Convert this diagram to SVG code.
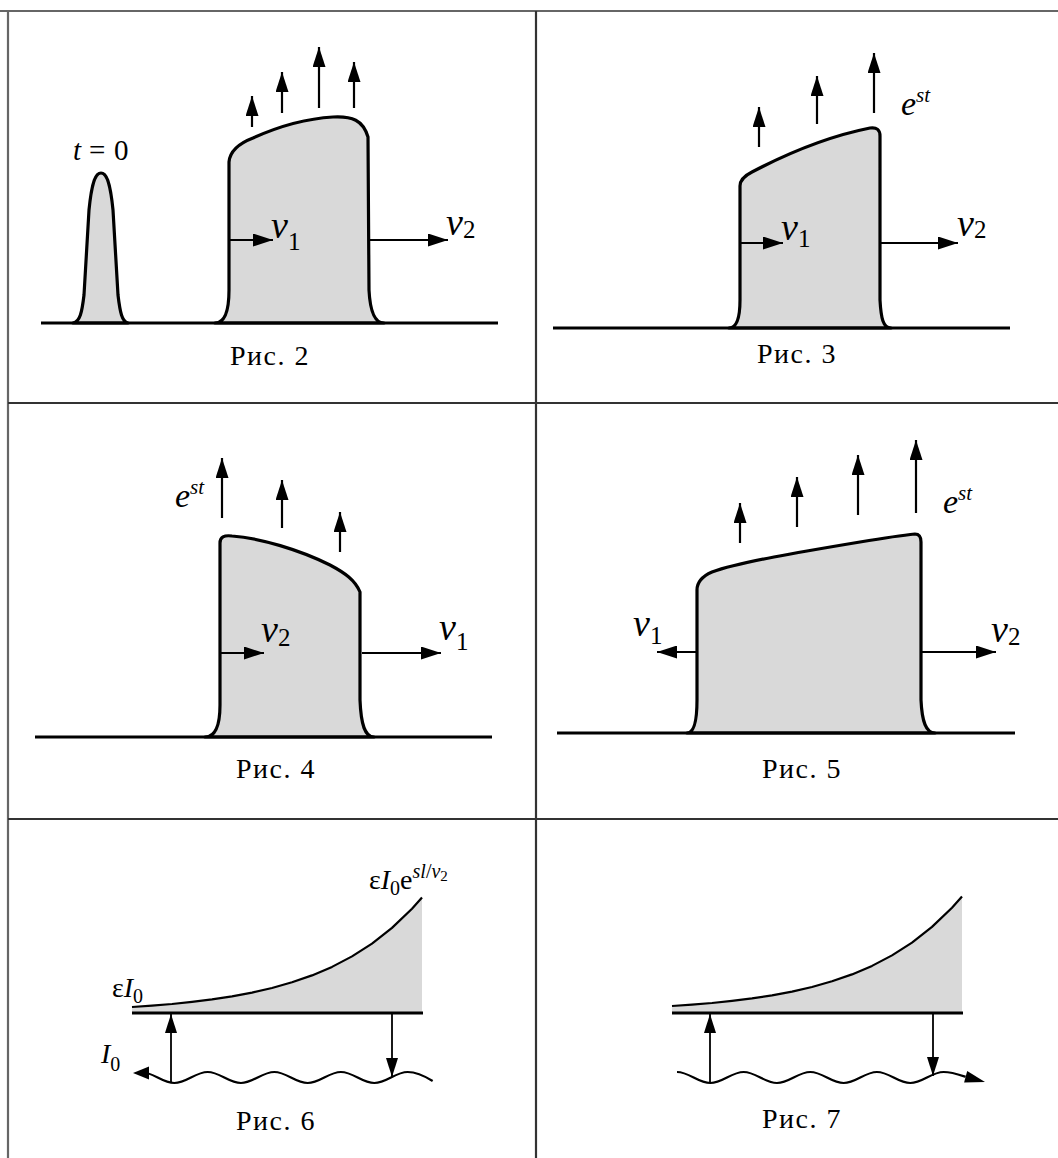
<svg xmlns="http://www.w3.org/2000/svg" width="1058" height="1158" viewBox="0 0 1058 1158">
<style>
.frame{stroke:#666;stroke-width:2.2;fill:none}
.grid{stroke:#333;stroke-width:2.2;fill:none}
.pulse{fill:#d9d9d9;stroke:#000;stroke-width:3.2;stroke-linejoin:round}
.base{stroke:#000;stroke-width:3;fill:none}
.arr{stroke:#000;stroke-width:2.2;fill:none;marker-end:url(#ah)}
.arr2{stroke:#000;stroke-width:1.8;fill:none;marker-end:url(#ah2)}
.curve{stroke:#000;stroke-width:2.2;fill:none;stroke-linejoin:round}
.area{fill:#d9d9d9;stroke:none}
.wave{stroke:#000;stroke-width:2.2;fill:none}
.cap{font-family:'Liberation Serif',serif;font-size:28px;letter-spacing:1.5px;text-anchor:middle;fill:#000}
.lbl{font-family:'Liberation Serif',serif;fill:#000}
.it{font-style:italic}
</style>
<defs>
<marker id="ah" markerUnits="userSpaceOnUse" markerWidth="20" markerHeight="13" refX="20" refY="6.5" orient="auto">
<path d="M0,0 L20,6.5 L0,13 z" fill="#000"/>
</marker>
<marker id="ah2" markerUnits="userSpaceOnUse" markerWidth="19" markerHeight="12" refX="19" refY="6" orient="auto">
<path d="M0,0 L19,6 L0,12 z" fill="#000"/>
</marker>
</defs>

<g id="frame">
<line class="frame" x1="0" y1="11" x2="1058" y2="11"/>
<line class="frame" x1="8" y1="10" x2="8" y2="1158"/>
<line class="grid" x1="536" y1="11" x2="536" y2="1158"/>
<line class="grid" x1="8" y1="403" x2="1058" y2="403"/>
<line class="grid" x1="8" y1="819" x2="1058" y2="819"/>
</g>

<g id="fig2">
<path class="pulse" d="M73,323 C80,322 82,312 84,295 L89,210 C92,180 96,173 101,173 C106,173 110,180 113,210 L118,295 C120,312 122,322 128,323 Z"/>
<path class="pulse" d="M215,323 C225,323 229,310 229,290 L229,162 C230,150 240,143 253,138 C275,128 300,119 333,117 C352,116 363,120 368,137 L369,290 C370,310 374,323 384,323 Z"/>
<line class="base" x1="41" y1="323" x2="498" y2="323"/>
<line class="arr" x1="252" y1="127" x2="252" y2="96"/>
<line class="arr" x1="282" y1="113" x2="282" y2="72"/>
<line class="arr" x1="319" y1="108" x2="319" y2="47"/>
<line class="arr" x1="354" y1="108" x2="354" y2="62"/>
<line class="arr" x1="230" y1="240" x2="273" y2="240"/>
<line class="arr" x1="370" y1="240" x2="448" y2="240"/>
<text class="lbl" x="73" y="160" font-size="29"><tspan class="it">t</tspan><tspan x="89">=</tspan><tspan x="114">0</tspan></text>
<text class="lbl" x="271" y="238" font-size="38"><tspan class="it">v</tspan><tspan font-size="25" dy="12">1</tspan></text>
<text class="lbl" x="446" y="235" font-size="38"><tspan class="it">v</tspan><tspan font-size="25" dy="3">2</tspan></text>
<text class="cap" x="270" y="365">Рис. 2</text>
</g>

<g id="fig3">
<path class="pulse" d="M729,328 C737,328 740,318 740,300 L740,186 C740,180 744,176 752,172 C790,152 830,136 870,128 C877,127 880,130 880,136 L880,300 C881,318 883,328 891,328 Z"/>
<line class="base" x1="553" y1="328" x2="1010" y2="328"/>
<line class="arr" x1="759" y1="147" x2="759" y2="107"/>
<line class="arr" x1="817" y1="124" x2="817" y2="76"/>
<line class="arr" x1="874" y1="113" x2="874" y2="53"/>
<line class="arr" x1="741" y1="243" x2="783" y2="243"/>
<line class="arr" x1="881" y1="243" x2="958" y2="243"/>
<text class="lbl" x="901" y="115" font-size="34"><tspan class="it">e</tspan><tspan class="it" font-size="21" dy="-13">st</tspan></text>
<text class="lbl" x="781" y="240" font-size="38"><tspan class="it">v</tspan><tspan font-size="25" dy="7">1</tspan></text>
<text class="lbl" x="957" y="236" font-size="38"><tspan class="it">v</tspan><tspan font-size="25" dy="2">2</tspan></text>
<text class="cap" x="797" y="363">Рис. 3</text>
</g>

<g id="fig4">
<path class="pulse" d="M205,737 C215,737 220,725 220,705 L220,543 C220,537 224,535 232,536 C260,538 300,550 330,565 C345,573 355,580 360,592 L360,700 C361,725 365,737 374,737 Z"/>
<line class="base" x1="35" y1="737" x2="492" y2="737"/>
<line class="arr" x1="222" y1="518" x2="222" y2="458"/>
<line class="arr" x1="282" y1="528" x2="282" y2="480"/>
<line class="arr" x1="340" y1="552" x2="340" y2="512"/>
<line class="arr" x1="221" y1="653" x2="264" y2="653"/>
<line class="arr" x1="362" y1="653" x2="441" y2="653"/>
<text class="lbl" x="175" y="507" font-size="34"><tspan class="it">e</tspan><tspan class="it" font-size="21" dy="-13">st</tspan></text>
<text class="lbl" x="261" y="642" font-size="38"><tspan class="it">v</tspan><tspan font-size="25" dy="4">2</tspan></text>
<text class="lbl" x="439" y="640" font-size="38"><tspan class="it">v</tspan><tspan font-size="25" dy="10">1</tspan></text>
<text class="cap" x="276" y="778">Рис. 4</text>
</g>

<g id="fig5">
<path class="pulse" d="M687,733 C694,733 697,722 697,700 L697,590 C697,582 703,576 712,572 C740,562 800,552 860,542 C890,537 905,535 915,534 C919,534 921,537 921,542 L921,700 C922,722 926,733 935,733 Z"/>
<line class="base" x1="557" y1="733" x2="1015" y2="733"/>
<line class="arr" x1="740" y1="543" x2="740" y2="503"/>
<line class="arr" x1="797" y1="527" x2="797" y2="477"/>
<line class="arr" x1="858" y1="515" x2="858" y2="455"/>
<line class="arr" x1="916" y1="513" x2="916" y2="440"/>
<line class="arr" x1="697" y1="652" x2="657" y2="652"/>
<line class="arr" x1="922" y1="652" x2="996" y2="652"/>
<text class="lbl" x="943" y="513" font-size="34"><tspan class="it">e</tspan><tspan class="it" font-size="21" dy="-13">st</tspan></text>
<text class="lbl" x="633" y="636" font-size="38"><tspan class="it">v</tspan><tspan font-size="25" dy="8">1</tspan></text>
<text class="lbl" x="991" y="642" font-size="38"><tspan class="it">v</tspan><tspan font-size="25" dy="3">2</tspan></text>
<text class="cap" x="802" y="778">Рис. 5</text>
</g>

<g id="fig6">
<path class="area" d="M132,1007 L152,1005.6 L172,1004 L192,1001.9 L212,999.4 L232,996.4 L252,992.6 L272,988 L292,982.3 L312,975.4 L332,966.9 L352,956.4 L372,943.6 L392,927.9 L412,908.7 L422,897.4 L422,1013 L132,1013 Z"/>
<path class="curve" d="M132,1007 L152,1005.6 L172,1004 L192,1001.9 L212,999.4 L232,996.4 L252,992.6 L272,988 L292,982.3 L312,975.4 L332,966.9 L352,956.4 L372,943.6 L392,927.9 L412,908.7 L422,897.4"/>
<line class="base" x1="132" y1="1013" x2="423" y2="1013"/>
<path class="wave" d="M141,1072 c12.1,0 21.2,11 33.33,11 c12.1,0 21.2,-11 33.33,-11 c12.1,0 21.2,11 33.33,11 c12.1,0 21.2,-11 33.33,-11 c12.1,0 21.2,11 33.33,11 c12.1,0 21.2,-11 33.33,-11 c12.1,0 21.2,11 33.33,11 c12.1,0 21.2,-11 33.33,-11 c9,0 17,4 25,9"/>
<polygon points="133,1073 149,1066.5 149,1079.5" fill="#000"/>
<line class="arr2" x1="171" y1="1083" x2="171" y2="1014"/>
<line class="arr2" x1="392" y1="1014" x2="392" y2="1077"/>
<text class="lbl" x="112" y="997" font-size="28">ε<tspan class="it">I</tspan><tspan font-size="20" dy="6">0</tspan></text>
<text class="lbl" x="101" y="1063" font-size="28"><tspan class="it">I</tspan><tspan font-size="20" dy="8">0</tspan></text>
<text class="lbl" x="369" y="889" font-size="28">ε<tspan class="it">I</tspan><tspan font-size="20" dy="6">0</tspan><tspan dy="-6">e</tspan><tspan font-size="20" dy="-11"><tspan class="it">sl</tspan>/<tspan class="it">v</tspan><tspan font-size="15" dy="3">2</tspan></tspan></text>
<text class="cap" x="276" y="1130">Рис. 6</text>
</g>

<g id="fig7">
<path class="area" d="M672,1006 L692,1004.6 L712,1003 L732,1000.9 L752,998.4 L772,995.4 L792,991.6 L812,987 L832,981.3 L852,974.4 L872,965.9 L892,955.4 L912,942.6 L932,926.9 L952,907.7 L962,896.4 L962,1013 L672,1013 Z"/>
<path class="curve" d="M672,1006 L692,1004.6 L712,1003 L732,1000.9 L752,998.4 L772,995.4 L792,991.6 L812,987 L832,981.3 L852,974.4 L872,965.9 L892,955.4 L912,942.6 L932,926.9 L952,907.7 L962,896.4"/>
<line class="base" x1="672" y1="1013" x2="963" y2="1013"/>
<path class="wave" d="M677,1072 c12.1,0 21.2,11 33.33,11 c12.1,0 21.2,-11 33.33,-11 c12.1,0 21.2,11 33.33,11 c12.1,0 21.2,-11 33.33,-11 c12.1,0 21.2,11 33.33,11 c12.1,0 21.2,-11 33.33,-11 c12.1,0 21.2,11 33.33,11 c12.1,0 21.2,-11 33.33,-11 c8,0 15,2.5 22,4.8"/>
<polygon points="985,1082 967.2,1071 964.1,1082.6" fill="#000"/>
<line class="arr2" x1="710" y1="1083" x2="710" y2="1014"/>
<line class="arr2" x1="933" y1="1014" x2="933" y2="1076"/>
<text class="cap" x="802" y="1128">Рис. 7</text>
</g>
</svg>
